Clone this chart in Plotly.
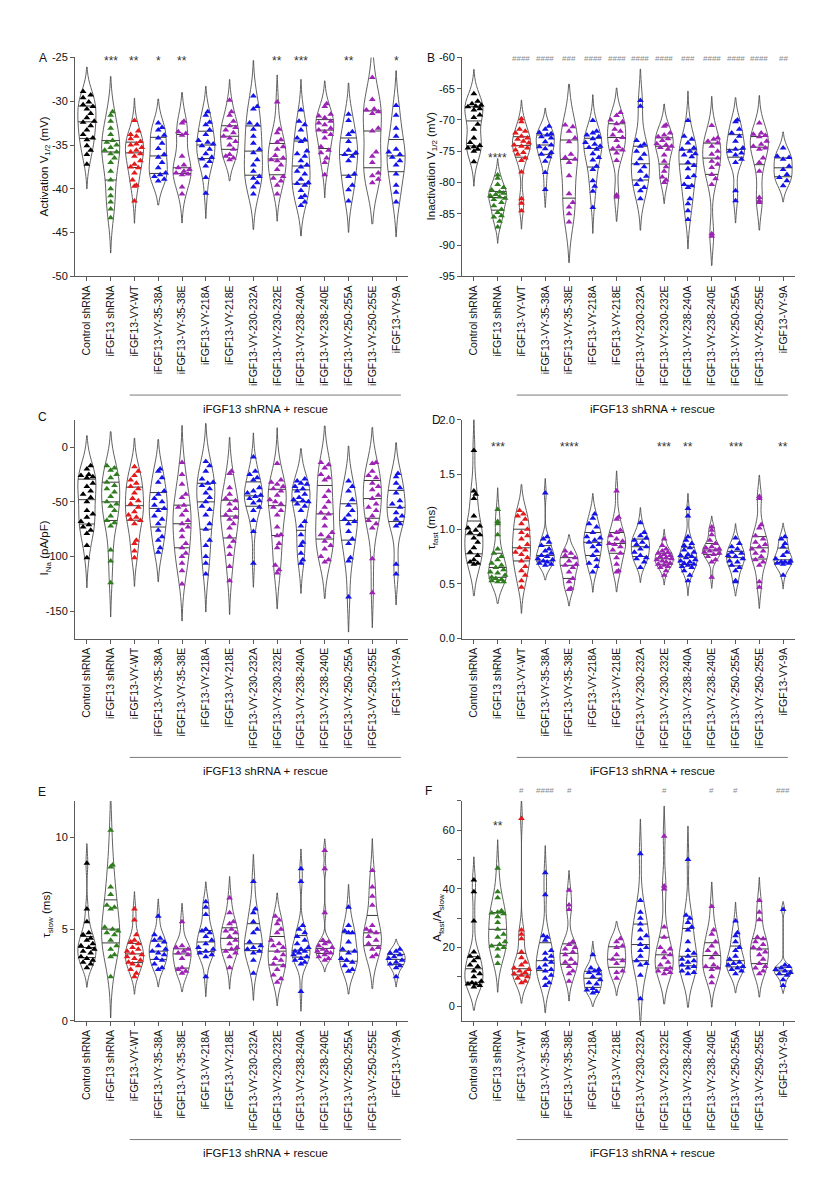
import numpy as np
import plotly.graph_objects as go

# ---------------- data ----------------
categories = ["Control shRNA", "iFGF13 shRNA", "iFGF13-VY-WT", "iFGF13-VY-35-38A",
              "iFGF13-VY-35-38E", "iFGF13-VY-218A", "iFGF13-VY-218E", "iFGF13-VY-230-232A",
              "iFGF13-VY-230-232E", "iFGF13-VY-238-240A", "iFGF13-VY-238-240E",
              "iFGF13-VY-250-255A", "iFGF13-VY-250-255E", "iFGF13-VY-9A"]

BLACK, GREEN, RED, BLUE, PURPLE = "#000000", "#2f7d1f", "#e31a1c", "#1414e6", "#9c24b4"
group_colors = [BLACK, GREEN, RED, BLUE, PURPLE, BLUE, PURPLE, BLUE, PURPLE, BLUE, PURPLE, BLUE, PURPLE, BLUE]

activation_v12 = [
    [-28.9, -29.3, -29.6, -30.1, -30.4, -30.6, -30.9, -31.4, -31.9, -32.3, -32.4, -32.8, -33.3, -33.8, -34.2, -34.4, -35.1, -35.6, -36.1, -37.2],
    [-31.2, -31.6, -32.3, -33.1, -33.8, -34.5, -34.7, -35.0, -35.3, -35.6, -35.8, -36.0, -36.5, -37.0, -38.0, -39.0, -40.0, -40.8, -41.5, -42.3, -43.3],
    [-32.2, -33.4, -33.8, -34.0, -34.3, -34.6, -34.9, -35.0, -35.3, -35.6, -35.8, -36.0, -36.3, -36.8, -37.2, -37.5, -37.6, -38.2, -39.0, -39.6, -39.7, -41.4],
    [-32.5, -33.0, -33.3, -33.9, -34.2, -34.8, -35.4, -36.1, -36.4, -37.0, -37.6, -38.2, -38.4, -38.6, -38.9, -39.1],
    [-32.3, -32.5, -33.5, -33.7, -33.9, -36.3, -37.3, -37.6, -37.8, -38.0, -38.2, -38.3, -38.4, -39.8, -40.6],
    [-31.2, -31.6, -32.4, -32.7, -33.3, -33.8, -34.5, -34.7, -34.9, -35.1, -35.5, -36.0, -36.4, -36.6, -36.9, -37.4, -38.7, -40.5],
    [-29.9, -31.2, -31.6, -32.3, -32.8, -33.0, -33.3, -33.6, -34.0, -34.2, -34.6, -35.0, -35.5, -36.1, -36.3, -36.5, -36.7],
    [-29.4, -30.6, -30.9, -32.5, -32.7, -33.2, -34.0, -34.8, -35.5, -35.9, -36.7, -37.3, -38.0, -38.6, -38.8, -39.3, -39.8, -40.6],
    [-30.1, -33.2, -33.6, -34.4, -34.7, -35.2, -35.5, -36.2, -36.5, -36.7, -36.8, -37.3, -37.8, -38.6, -38.8, -39.1, -39.6, -40.6],
    [-31.0, -32.3, -32.7, -33.3, -34.2, -34.4, -34.6, -35.7, -36.0, -36.3, -36.8, -37.3, -37.5, -38.0, -38.3, -38.9, -39.3, -39.4, -39.6, -40.2, -40.8, -41.0, -41.5, -41.9],
    [-30.3, -30.6, -31.5, -31.7, -31.9, -32.3, -32.5, -32.7, -33.1, -33.3, -33.5, -33.8, -34.2, -35.2, -35.6, -35.9, -36.5, -37.0, -38.4],
    [-31.5, -32.2, -33.5, -33.8, -34.6, -35.6, -35.9, -36.1, -36.3, -36.8, -38.3, -38.6, -39.6, -40.1, -41.4],
    [-27.3, -29.8, -30.9, -31.0, -31.2, -31.4, -33.1, -33.4, -35.8, -36.3, -37.0, -38.2, -38.5, -38.9, -39.3],
    [-30.5, -31.6, -33.1, -34.0, -35.5, -35.8, -36.1, -36.4, -36.8, -37.3, -38.3, -39.6, -40.4, -41.5],
]

inactivation_v12 = [
    [-65.8, -67.0, -67.4, -67.6, -67.8, -67.9, -68.2, -68.4, -69.2, -69.6, -70.7, -71.5, -72.9, -73.6, -74.1, -74.3, -74.5, -74.7, -75.0, -76.7],
    [-78.8, -79.3, -80.3, -80.8, -81.2, -81.5, -81.7, -81.9, -82.1, -82.3, -82.5, -82.7, -83.2, -83.7, -84.3, -84.8, -85.3, -85.5, -86.2, -87.1],
    [-69.8, -70.3, -71.5, -71.8, -72.1, -72.6, -72.9, -73.1, -73.4, -73.7, -74.0, -74.2, -74.5, -74.8, -75.2, -75.5, -76.1, -76.5, -78.3, -82.6, -83.3, -84.5],
    [-71.0, -71.5, -72.0, -72.2, -72.4, -72.7, -72.9, -73.5, -74.0, -74.3, -74.6, -75.2, -75.5, -75.9, -76.6, -78.4, -81.1],
    [-70.8, -71.1, -71.8, -72.9, -73.5, -75.5, -76.0, -76.3, -76.8, -78.9, -81.8, -83.2, -83.9, -85.0, -86.3],
    [-70.1, -71.8, -72.1, -72.4, -72.7, -73.0, -73.6, -73.9, -74.2, -74.4, -74.7, -75.4, -76.0, -76.4, -77.4, -77.9, -79.7, -80.6, -81.4, -84.0],
    [-68.8, -69.3, -70.0, -70.3, -70.6, -71.5, -71.8, -72.4, -72.8, -73.3, -74.3, -74.6, -74.8, -75.3, -76.5, -82.0, -82.3],
    [-66.9, -67.8, -73.3, -73.9, -74.2, -75.0, -75.5, -76.2, -77.0, -77.5, -78.2, -79.0, -79.6, -80.3, -80.8, -81.3, -82.6],
    [-70.8, -71.0, -72.1, -72.4, -72.7, -73.0, -73.3, -73.8, -74.0, -74.2, -74.4, -74.7, -75.6, -76.6, -77.5, -78.2, -79.1, -79.6, -80.0],
    [-70.1, -72.6, -73.1, -73.7, -74.5, -74.7, -75.0, -75.4, -75.6, -75.9, -76.8, -77.3, -77.8, -78.9, -79.2, -80.3, -80.5, -80.8, -82.6, -83.4, -84.5, -85.9],
    [-70.9, -72.9, -73.1, -73.4, -73.7, -74.2, -75.0, -75.5, -76.1, -76.6, -77.1, -77.6, -78.7, -79.4, -80.3, -88.2, -88.6],
    [-70.0, -70.3, -71.5, -72.1, -72.6, -73.4, -74.5, -74.7, -75.0, -75.3, -75.6, -76.3, -76.8, -81.3, -82.9],
    [-70.5, -72.1, -72.3, -72.5, -72.7, -73.4, -73.9, -74.2, -74.5, -74.7, -76.1, -76.8, -78.2, -82.4, -82.9, -83.2],
    [-74.5, -75.8, -76.0, -76.3, -77.4, -77.9, -78.7, -79.2, -79.7, -80.5],
]

ina_density = [
    [-17, -20, -25, -26, -27, -28, -33, -36, -40, -43, -46, -50, -58, -61, -64, -68, -71, -73, -76, -79, -90, -101],
    [-17, -19, -21, -25, -28, -32, -35, -38, -41, -45, -50, -52, -54, -58, -63, -67, -69, -72, -94, -104, -124],
    [-18, -22, -26, -30, -33, -36, -38, -42, -47, -49, -52, -55, -59, -62, -64, -66, -67, -70, -85, -88, -95, -101],
    [-20, -22, -28, -32, -40, -43, -47, -50, -53, -56, -58, -63, -66, -70, -76, -82, -85, -92, -96],
    [-14, -25, -34, -43, -46, -53, -55, -58, -62, -67, -70, -73, -76, -82, -88, -92, -97, -100, -106, -113, -125],
    [-13, -17, -22, -29, -32, -33, -35, -38, -42, -46, -50, -54, -57, -62, -70, -75, -85, -90, -100, -106, -116],
    [-22, -24, -37, -43, -47, -49, -52, -56, -58, -62, -64, -66, -70, -74, -82, -86, -91, -98, -109, -122],
    [-9, -22, -25, -28, -30, -37, -40, -42, -44, -45, -47, -49, -51, -55, -58, -67, -77, -106],
    [-15, -30, -32, -34, -36, -38, -40, -44, -48, -50, -52, -55, -58, -62, -73, -80, -81, -88, -92, -108, -112, -115],
    [-29, -31, -33, -34, -36, -38, -40, -43, -46, -48, -49, -50, -52, -54, -58, -68, -72, -80, -87, -90, -97, -103, -106],
    [-14, -16, -19, -25, -28, -30, -40, -45, -50, -55, -60, -61, -65, -72, -78, -80, -82, -86, -90, -93, -100, -103, -105],
    [-31, -36, -40, -48, -53, -58, -62, -66, -68, -70, -77, -84, -88, -101, -104, -137],
    [-14, -15, -22, -26, -28, -33, -36, -39, -44, -47, -52, -55, -58, -63, -67, -70, -74, -102, -133],
    [-24, -27, -33, -37, -42, -49, -52, -55, -60, -63, -66, -70, -72, -107, -116],
]

tau_fast = [
    [1.72, 1.35, 1.32, 1.28, 1.12, 1.03, 1.01, 0.99, 0.97, 0.95, 0.92, 0.88, 0.83, 0.79, 0.76, 0.72, 0.70, 0.69, 0.68],
    [1.18, 1.07, 1.05, 0.95, 0.82, 0.78, 0.75, 0.72, 0.69, 0.67, 0.65, 0.63, 0.61, 0.60, 0.58, 0.56, 0.55, 0.54, 0.53, 0.52, 0.52],
    [1.17, 1.14, 1.12, 1.09, 1.05, 1.00, 0.97, 0.94, 0.91, 0.86, 0.83, 0.81, 0.79, 0.77, 0.74, 0.71, 0.66, 0.62, 0.58, 0.53, 0.47],
    [1.33, 0.93, 0.91, 0.88, 0.85, 0.82, 0.80, 0.78, 0.76, 0.75, 0.73, 0.72, 0.71, 0.70, 0.69, 0.68, 0.67],
    [0.80, 0.78, 0.76, 0.74, 0.71, 0.68, 0.67, 0.65, 0.61, 0.55, 0.52, 0.46, 0.45],
    [1.14, 1.10, 1.05, 1.02, 0.97, 0.93, 0.92, 0.90, 0.88, 0.86, 0.84, 0.80, 0.76, 0.72, 0.69, 0.66, 0.61],
    [1.35, 1.11, 1.09, 0.99, 0.97, 0.94, 0.91, 0.89, 0.87, 0.86, 0.84, 0.81, 0.78, 0.74, 0.68, 0.62, 0.61],
    [1.06, 0.97, 0.94, 0.92, 0.90, 0.88, 0.86, 0.84, 0.82, 0.79, 0.76, 0.74, 0.73, 0.70, 0.65],
    [0.91, 0.85, 0.82, 0.80, 0.79, 0.78, 0.77, 0.76, 0.75, 0.74, 0.73, 0.72, 0.71, 0.70, 0.69, 0.68, 0.67, 0.66, 0.65, 0.62, 0.58],
    [1.19, 1.12, 0.93, 0.90, 0.87, 0.85, 0.83, 0.81, 0.79, 0.77, 0.76, 0.75, 0.74, 0.72, 0.71, 0.70, 0.69, 0.68, 0.67, 0.66, 0.65, 0.62, 0.58, 0.53],
    [1.02, 0.99, 0.95, 0.90, 0.87, 0.84, 0.83, 0.82, 0.81, 0.80, 0.79, 0.78, 0.77, 0.75, 0.72, 0.70, 0.56],
    [0.92, 0.87, 0.84, 0.82, 0.79, 0.78, 0.76, 0.75, 0.73, 0.71, 0.70, 0.67, 0.65, 0.62, 0.53, 0.52],
    [1.30, 1.28, 1.04, 1.01, 0.94, 0.91, 0.88, 0.86, 0.84, 0.82, 0.80, 0.78, 0.75, 0.72, 0.70, 0.67, 0.52, 0.47],
    [0.93, 0.91, 0.87, 0.84, 0.79, 0.76, 0.73, 0.71, 0.70, 0.70, 0.69, 0.69, 0.68, 0.58],
]

tau_slow = [
    [8.6, 6.1, 5.4, 4.8, 4.7, 4.5, 4.4, 4.2, 4.1, 4.0, 3.9, 3.8, 3.7, 3.5, 3.4, 3.3, 3.2, 3.1, 2.9],
    [10.4, 8.5, 8.4, 7.3, 6.9, 6.3, 6.2, 6.1, 5.1, 5.0, 4.9, 4.8, 4.7, 4.4, 4.1, 3.9, 3.6, 3.5, 2.4],
    [6.1, 5.5, 4.7, 4.4, 4.3, 4.2, 4.0, 3.9, 3.8, 3.7, 3.6, 3.5, 3.4, 3.3, 3.2, 3.1, 3.0, 2.8, 2.6, 2.4],
    [5.7, 4.7, 4.5, 4.4, 4.3, 4.1, 3.9, 3.8, 3.7, 3.6, 3.4, 3.3, 3.1, 2.9, 2.8],
    [5.4, 4.1, 4.0, 3.9, 3.8, 3.7, 3.6, 3.4, 2.9, 2.8, 2.7, 2.6],
    [6.5, 6.2, 5.8, 5.0, 4.9, 4.8, 4.6, 4.4, 4.2, 4.0, 3.9, 3.8, 3.7, 3.6, 3.5, 2.4],
    [6.7, 5.9, 5.4, 5.3, 5.0, 4.9, 4.8, 4.6, 4.4, 4.2, 4.0, 3.9, 3.8, 3.7, 3.5, 2.9],
    [7.6, 6.1, 5.9, 5.4, 5.0, 4.8, 4.3, 4.1, 4.0, 3.9, 3.8, 3.7, 3.3, 2.6],
    [5.7, 5.5, 5.3, 5.0, 4.8, 4.4, 4.2, 4.1, 4.0, 3.8, 3.6, 3.4, 3.3, 3.1, 3.0, 2.8, 2.5, 2.3, 2.1],
    [8.3, 7.6, 5.2, 5.0, 4.8, 4.6, 4.4, 4.2, 4.0, 3.9, 3.8, 3.8, 3.7, 3.6, 3.5, 3.4, 3.3, 3.2, 3.1, 1.6],
    [9.3, 8.3, 5.9, 4.4, 4.3, 4.2, 4.1, 4.0, 3.9, 3.8, 3.8, 3.7, 3.6, 3.5, 3.4, 3.3],
    [6.2, 5.2, 4.9, 4.8, 4.8, 4.3, 3.9, 3.8, 3.7, 3.4, 3.3, 3.2, 3.0, 2.8, 2.7],
    [8.2, 7.3, 6.8, 6.3, 5.2, 5.0, 4.9, 4.8, 4.6, 4.4, 4.2, 4.0, 3.9, 3.6, 3.5],
    [3.9, 3.8, 3.7, 3.6, 3.5, 3.4, 3.3, 3.2, 3.1, 3.0, 2.9, 2.4],
]

amp_ratio = [
    [43, 39, 29, 18.5, 17, 16.5, 15.5, 14, 13.5, 12, 11, 10, 8.5, 8, 7.5, 7.5, 7, 6.5],
    [47, 39, 37, 32.5, 32, 31.8, 31.5, 30.5, 28.5, 26.2, 24.5, 23.5, 22, 21, 20.5, 20, 19.5, 17, 14.5],
    [64, 26, 24.5, 23, 18.5, 16.5, 15, 14, 13, 12.5, 12, 11.5, 11, 10.5, 10, 9.5, 8.5, 8],
    [45.5, 38, 24, 23.5, 22.5, 19, 18, 17, 16, 15, 14, 13, 12.5, 12, 10.5, 9.5, 8, 7],
    [39.5, 34.5, 33, 22, 21, 20, 19.5, 18.5, 17.5, 16, 15, 14.5, 13.5, 12, 11, 8.5],
    [17.5, 13, 12.5, 12, 11.5, 11, 10, 9, 8, 7.5, 6, 5.5, 5, 4.5],
    [23, 22, 20.5, 20, 17.5, 16, 15.5, 14.5, 12, 11.5, 9.5],
    [52, 36, 32, 30, 28, 26, 24, 23, 21, 20, 19, 17, 15.5, 14.5, 14, 10.5, 2.5],
    [58, 41, 40, 27, 23.5, 20, 19.5, 18.5, 17.5, 16.5, 15, 14, 13, 12.5, 12, 11.5, 11],
    [50, 31, 30, 28.5, 27, 26, 22, 19, 18, 17, 16, 15.5, 15, 14, 13.5, 13, 12, 11.5, 11],
    [34, 26, 24.5, 22, 20.5, 19, 18, 16.5, 14, 13.5, 13, 12.5, 10, 8],
    [29, 25, 24, 22, 20, 19, 17, 16, 15, 14.5, 14, 13.5, 13, 12.5, 12, 11],
    [36, 32, 29.5, 23.5, 23, 22, 21, 20, 19.5, 18.5, 17.5, 16, 14.5, 13.5, 13, 12, 11],
    [33, 14, 13.5, 13, 12.5, 12, 11.5, 11, 10.5, 9, 7],
]

activation_stars = ["", "***", "**", "*", "**", "", "", "", "**", "***", "", "**", "", "*"]
inactivation_stars = ["", "****", "", "", "", "", "", "", "", "", "", "", "", ""]
inactivation_hashes = ["", "", "####", "####", "###", "####", "####", "####", "####", "###", "####", "####", "####", "##"]
tau_fast_stars = ["", "***", "", "", "****", "", "", "", "***", "**", "", "***", "", "**"]
ratio_stars = ["", "**", "", "", "", "", "", "", "", "", "", "", "", ""]
ratio_hashes = ["", "", "#", "####", "#", "", "", "", "#", "", "#", "#", "", "###"]

# ---------------- layout geometry ----------------
W, H = 834, 1200
FONT = "Liberation Sans, Arial, sans-serif"
AXC = "#5a5a5a"
VIOLIN_W = 0.76

left_x = (75, 408)
right_x = (462, 795)
rows_y = [(52, 273), (418, 639), (803, 1025)]


def xdom(px):
    return [px[0] / W, px[1] / W]


def ydom(py):
    return [1 - py[1] / H, 1 - py[0] / H]


def hyphen_labels(vals, fmt="{:g}"):
    return [fmt.format(v).replace("\u2212", "-") for v in vals]


panels = [
    dict(letter="A", data=activation_v12, col=left_x, row=0, rng=[-50, -25],
         tickvals=[-50, -45, -40, -35, -30, -25], ticktext=None,
         title="Activation V<sub>1/2</sub> (mV)", title_xy=(45, 162), letter_xy=(43, 53),
         stars=activation_stars, star_y=-25.45, hashes=None, hash_y=None),
    dict(letter="B", data=inactivation_v12, col=right_x, row=0, rng=[-95, -60],
         tickvals=[-95, -90, -85, -80, -75, -70, -65, -60], ticktext=None,
         title="Inactivation V<sub>1/2</sub> (mV)", title_xy=(432, 162), letter_xy=(431, 53),
         stars=inactivation_stars, star_y=-76.0, hashes=inactivation_hashes, hash_y=("data", -60.2)),
    dict(letter="C", data=ina_density, col=left_x, row=1, rng=[-175, 25],
         tickvals=[-150, -100, -50, 0], ticktext=None,
         title="I<sub>Na</sub> (pA/pF)", title_xy=(45, 548), letter_xy=(42, 415),
         stars=None, star_y=None, hashes=None, hash_y=None),
    dict(letter="D", data=tau_fast, col=right_x, row=1, rng=[0, 2],
         tickvals=[0, 0.5, 1.0, 1.5, 2.0], ticktext=["0.0", "0.5", "1.0", "1.5", "2.0"],
         title="τ<sub>fast</sub> (ms)", title_xy=(432, 527), letter_xy=(436, 418),
         stars=tau_fast_stars, star_y=1.75, hashes=None, hash_y=None),
    dict(letter="E", data=tau_slow, col=left_x, row=2, rng=[0, 12],
         tickvals=[0, 5, 10], ticktext=None,
         title="τ<sub>slow</sub> (ms)", title_xy=(47, 918), letter_xy=(42, 794),
         stars=None, star_y=None, hashes=None, hash_y=None),
    dict(letter="F", data=amp_ratio, col=right_x, row=2, rng=[-5, 70],
         tickvals=[0, 10, 20, 30, 40, 50, 60, 70], ticktext=["0", "", "20", "", "40", "", "60", ""],
         title="A<sub>fast</sub>/A<sub>slow</sub>", title_xy=(438, 921), letter_xy=(428, 793),
         stars=ratio_stars, star_y=61.5, hashes=ratio_hashes, hash_y=("paper", 1 - 792 / H)),
]


def make_density(vals):
    v = np.asarray(vals, float)
    n = len(v)
    q1, q3 = np.percentile(v, [25, 75], method="hazen")
    ssd = v.std(ddof=1)
    bw = 1.059 * min(ssd, (q3 - q1) / 1.349) * n ** -0.2
    if bw <= 0:
        bw = ssd * 0.5 if ssd > 0 else 1.0
    grid = np.linspace(v.min() - 2 * bw, v.max() + 2 * bw, 600)

    def raw(x):
        x = np.atleast_1d(np.asarray(x, float))
        return np.exp(-0.5 * ((x[:, None] - v[None, :]) / bw) ** 2).sum(axis=1)

    mx = raw(grid).max()
    return lambda x: raw(x) / mx


def swarm_offsets(vals, dens, px_x, px_y, size=5.8):
    v = np.asarray(vals, float)
    order = np.argsort(v, kind="stable")
    cands = [0.0, 0.16, -0.16, 0.08, -0.08, 0.25, -0.25, 0.31, -0.31]
    placed = []
    offs = np.zeros(len(v))
    for idx in order:
        y = v[idx]
        lim = max(VIOLIN_W / 2 * float(dens(y)[0]) - 0.05, 0.0)
        best, bestd = 0.0, -1.0
        for c in cands:
            if abs(c) > lim:
                continue
            d = min((np.hypot((c - ox) * px_x, (y - oy) * px_y) for ox, oy in placed), default=1e9)
            if d >= size:
                best = c
                break
            if d > bestd:
                best, bestd = c, d
        offs[idx] = best
        placed.append((best, y))
    return offs


fig = go.Figure()
annotations = []
shapes = []
layout_axes = {}

for pi, p in enumerate(panels):
    sfx = "" if pi == 0 else str(pi + 1)
    xr, yr = "x" + sfx, "y" + sfx
    row_px = rows_y[p["row"]]
    px_x = (p["col"][1] - p["col"][0]) / 14.0
    px_y = (row_px[1] - row_px[0]) / (p["rng"][1] - p["rng"][0])

    # violins
    for gi, vals in enumerate(p["data"]):
        v = np.asarray(vals, float)
        fig.add_trace(go.Violin(
            x=np.full(len(v), gi), y=v, xaxis=xr, yaxis=yr, width=VIOLIN_W,
            scalemode="width", spanmode="soft", points=False,
            fillcolor="rgba(0,0,0,0)", line=dict(color="#505050", width=0.9),
            box=dict(visible=False), meanline=dict(visible=False),
            hoverinfo="skip", showlegend=False))

    # quartile lines
    lx, ly = [], []
    dens_list = []
    for gi, vals in enumerate(p["data"]):
        v = np.asarray(vals, float)
        dens = make_density(v)
        dens_list.append(dens)
        for q in np.percentile(v, [25, 50, 75]):
            hw = VIOLIN_W / 2 * float(dens(q)[0])
            lx += [gi - hw, gi + hw, None]
            ly += [q, q, None]
    fig.add_trace(go.Scatter(x=lx, y=ly, xaxis=xr, yaxis=yr, mode="lines",
                             line=dict(color="#3a3a3a", width=1),
                             hoverinfo="skip", showlegend=False))

    # points
    for gi, vals in enumerate(p["data"]):
        v = np.asarray(vals, float)
        offs = swarm_offsets(v, dens_list[gi], px_x, px_y)
        fig.add_trace(go.Scatter(
            x=gi + offs, y=v, xaxis=xr, yaxis=yr, mode="markers",
            marker=dict(symbol="triangle-up", size=6, color=group_colors[gi], line=dict(width=0)),
            hoverinfo="skip", showlegend=False))

    # axes
    layout_axes["xaxis" + sfx] = dict(
        domain=xdom(p["col"]), range=[-0.5, 13.5], anchor=yr,
        tickmode="array", tickvals=list(range(14)), ticktext=categories, tickangle=-90,
        ticks="outside", ticklen=4, tickcolor=AXC, showline=True, linecolor=AXC, linewidth=1,
        showgrid=False, zeroline=False, tickfont=dict(size=10.5, color="#111", family=FONT))
    ticktext = p["ticktext"] if p["ticktext"] is not None else hyphen_labels(p["tickvals"])
    layout_axes["yaxis" + sfx] = dict(
        domain=ydom(row_px), range=p["rng"], anchor=xr,
        tickmode="array", tickvals=p["tickvals"], ticktext=ticktext,
        ticks="outside", ticklen=4, tickcolor=AXC, showline=True, linecolor=AXC, linewidth=1,
        showgrid=False, zeroline=False, tickfont=dict(size=11, color="#111", family=FONT))

    # panel letter
    annotations.append(dict(text=p["letter"], xref="paper", yref="paper",
                            x=p["letter_xy"][0] / W, y=1 - p["letter_xy"][1] / H,
                            xanchor="center", yanchor="middle", showarrow=False,
                            font=dict(size=12, color="#111", family=FONT)))
    # y title
    annotations.append(dict(text=p["title"], xref="paper", yref="paper",
                            x=p["title_xy"][0] / W, y=1 - p["title_xy"][1] / H, textangle=-90,
                            xanchor="center", yanchor="middle", showarrow=False,
                            font=dict(size=11.5, color="#111", family=FONT)))
    # bracket + group label
    axis_bottom = row_px[1]
    shapes.append(dict(type="line", xref=xr, yref="paper", x0=1.8, x1=13.2,
                       y0=1 - (axis_bottom + 120) / H, y1=1 - (axis_bottom + 120) / H,
                       line=dict(color="#7a7a7a", width=1)))
    annotations.append(dict(text="iFGF13 shRNA + rescue", xref=xr, yref="paper",
                            x=7.5, y=1 - (axis_bottom + 134) / H,
                            xanchor="center", yanchor="middle", showarrow=False,
                            font=dict(size=11.5, color="#111", family=FONT)))
    # significance marks
    if p["stars"]:
        for gi, s in enumerate(p["stars"]):
            if s:
                annotations.append(dict(text=s, xref=xr, yref=yr, x=gi, y=p["star_y"],
                                        xanchor="center", yanchor="middle", showarrow=False,
                                        font=dict(size=12, color="#333", family=FONT)))
    if p["hashes"]:
        kind, hy = p["hash_y"]
        for gi, s in enumerate(p["hashes"]):
            if s:
                annotations.append(dict(text=s, xref=xr, yref=(yr if kind == "data" else "paper"),
                                        x=gi, y=hy, xanchor="center", yanchor="middle",
                                        showarrow=False,
                                        font=dict(size=8, color="#8a8a8a", family=FONT)))

fig.update_layout(
    width=W, height=H, margin=dict(l=0, r=0, t=0, b=0),
    paper_bgcolor="white", plot_bgcolor="white",
    font=dict(family=FONT, color="#111"),
    violinmode="overlay", showlegend=False,
    annotations=annotations, shapes=shapes,
    **layout_axes)

fig.write_html("out.html")
